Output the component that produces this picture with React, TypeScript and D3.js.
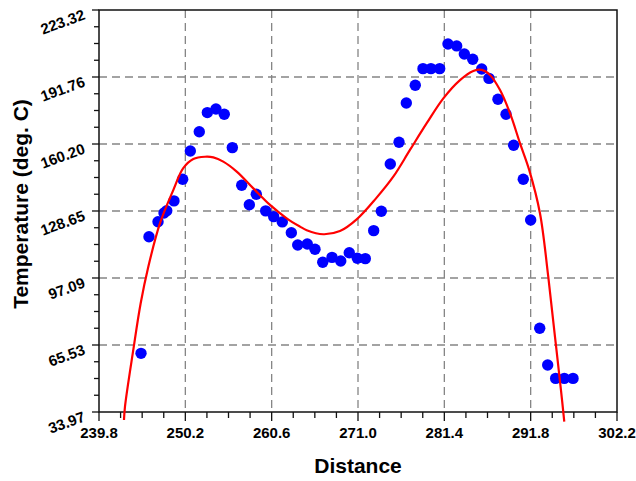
import React, { useRef, useEffect } from "react";
import { select, scaleLinear, line, curveCatmullRom } from "d3";

// measured points (distance, temperature)
const distance = [
  244.86, 245.82, 246.91, 247.63, 247.96, 248.83, 249.88, 250.8, 251.88, 252.85,
  253.89, 254.89, 255.86, 256.99, 257.91, 258.75, 259.88, 260.84, 261.88, 262.97,
  263.74, 264.89, 265.82, 266.75, 267.87, 268.92, 269.95, 270.92, 271.88, 272.89,
  273.81, 274.89, 275.94, 276.82, 277.9, 278.83, 279.79, 280.84, 281.84, 282.89,
  283.81, 284.82, 285.9, 286.78, 287.86, 288.83, 289.75, 290.91, 291.8, 292.89,
  293.85, 294.81, 295.85, 296.9,
];
const temperature = [
  61.6, 116.5, 123.6, 127.7, 128.8, 133.4, 143.6, 156.9, 166.0, 175.0,
  176.7, 174.2, 158.5, 140.8, 131.6, 136.5, 128.7, 126.0, 123.5, 118.4,
  112.6, 113.1, 110.6, 104.5, 106.8, 105.1, 109.0, 106.4, 106.2, 119.4,
  128.5, 150.8, 161.0, 179.5, 187.9, 195.7, 195.7, 195.7, 207.3, 206.4,
  202.6, 200.1, 195.5, 191.1, 181.3, 174.2, 159.6, 143.6, 124.4, 73.4,
  56.1, 49.8, 49.8, 49.8,
];

// fitted curve
const fitDistance = [
  242.81, 242.93, 243.93, 244.82, 245.74, 247.15, 248.75, 249.95, 251.16, 252.57,
  253.57, 254.77, 256.39, 258.39, 260.4, 262.41, 264.01, 264.82, 266.82, 268.83,
  270.84, 273.17, 275.25, 277.26, 279.28, 281.28, 283.29, 284.89, 285.9, 286.9,
  288.11, 289.31, 290.52, 291.63, 292.92, 293.92, 294.73, 295.45, 295.85,
];
const fitTemperature = [
  30.2, 36.5, 63.2, 85.2, 102.4, 122.9, 138.5, 148.8, 153.1, 154.2,
  153.9, 151.9, 147.2, 139.3, 131.5, 125.2, 121.3, 119.6, 117.7, 119.2,
  124.7, 134.6, 144.8, 157.4, 170.0, 181.7, 190.3, 194.6, 195.1, 192.7,
  185.6, 174.7, 160.5, 147.9, 127.6, 97.7, 69.4, 44.3, 29.4,
];

const xTickLabels = ["239.8", "250.2", "260.6", "271.0", "281.4", "291.8", "302.2"];
const yTickLabels = ["33.97", "65.53", "97.09", "128.65", "160.20", "191.76", "223.32"];

const width = 636;
const height = 481;
const margin = { top: 10, right: 19, bottom: 69, left: 99 };
const font = "'Liberation Sans', Arial, sans-serif";

function App() {
  const svgRef = useRef<SVGSVGElement>(null);

  useEffect(() => {
    const svg = select(svgRef.current);
    svg.selectAll("*").remove();

    const xTicks = xTickLabels.map(Number);
    const yTicks = yTickLabels.map(Number);

    const xScale = scaleLinear()
      .domain([xTicks[0], xTicks[xTicks.length - 1]])
      .range([margin.left, width - margin.right]);
    const yScale = scaleLinear()
      .domain([yTicks[0], yTicks[yTicks.length - 1]])
      .range([height - margin.bottom, margin.top]);

    const [x0, x1] = xScale.range();
    const [y0, y1] = yScale.range();

    // minor ticks: 4 subdivisions per major step
    const minor = (ticks: number[]) => {
      const out: number[] = [];
      for (let i = 0; i < ticks.length - 1; i++) {
        const step = (ticks[i + 1] - ticks[i]) / 4;
        for (let k = 1; k < 4; k++) out.push(ticks[i] + k * step);
      }
      return out;
    };

    // grid
    const grid = svg.append("g").attr("stroke", "#858585").attr("stroke-width", 1.3).attr("stroke-dasharray", "8,5");
    grid
      .selectAll(".vgrid")
      .data(xTicks.slice(1, -1))
      .join("line")
      .attr("x1", (d) => xScale(d))
      .attr("x2", (d) => xScale(d))
      .attr("y1", y1)
      .attr("y2", y0);
    grid
      .selectAll(".hgrid")
      .data(yTicks.slice(1, -1))
      .join("line")
      .attr("x1", x0)
      .attr("x2", x1)
      .attr("y1", (d) => yScale(d))
      .attr("y2", (d) => yScale(d));

    // frame
    svg
      .append("rect")
      .attr("x", x0)
      .attr("y", y1)
      .attr("width", x1 - x0)
      .attr("height", y0 - y1)
      .attr("fill", "none")
      .attr("stroke", "#111")
      .attr("stroke-width", 1.5);

    // ticks
    const ax = svg.append("g").attr("stroke", "#111").attr("stroke-width", 1.3);
    ax.selectAll(".xmaj")
      .data(xTicks)
      .join("line")
      .attr("x1", (d) => xScale(d))
      .attr("x2", (d) => xScale(d))
      .attr("y1", y0)
      .attr("y2", y0 + 9);
    ax.selectAll(".xmin")
      .data(minor(xTicks))
      .join("line")
      .attr("x1", (d) => xScale(d))
      .attr("x2", (d) => xScale(d))
      .attr("y1", y0)
      .attr("y2", y0 + 6);
    ax.selectAll(".ymaj")
      .data(yTicks)
      .join("line")
      .attr("x1", x0 - 7)
      .attr("x2", x0)
      .attr("y1", (d) => yScale(d))
      .attr("y2", (d) => yScale(d));
    ax.selectAll(".ymin")
      .data(minor(yTicks))
      .join("line")
      .attr("x1", x0 - 5)
      .attr("x2", x0)
      .attr("y1", (d) => yScale(d))
      .attr("y2", (d) => yScale(d));

    // tick labels
    svg
      .append("g")
      .selectAll("text")
      .data(xTickLabels)
      .join("text")
      .attr("x", (d) => xScale(+d))
      .attr("y", y0 + 26)
      .attr("text-anchor", "middle")
      .attr("font-family", font)
      .attr("font-weight", "bold")
      .attr("font-size", 15)
      .text((d) => d);

    svg
      .append("g")
      .selectAll("text")
      .data(yTickLabels)
      .join("text")
      .attr("transform", (d) => `translate(${x0 - 13},${yScale(+d) + 9}) rotate(-20)`)
      .attr("text-anchor", "end")
      .attr("font-family", font)
      .attr("font-weight", "bold")
      .attr("font-size", 15)
      .text((d) => d);

    // dots
    svg
      .append("g")
      .selectAll("circle")
      .data(distance.map((d, i) => [d, temperature[i]]))
      .join("circle")
      .attr("cx", (d) => xScale(d[0]))
      .attr("cy", (d) => yScale(d[1]))
      .attr("r", 5.7)
      .attr("fill", "#0000ff");

    // fitted curve
    const fitLine = line<[number, number]>()
      .x((d) => xScale(d[0]))
      .y((d) => yScale(d[1]))
      .curve(curveCatmullRom);
    svg
      .append("path")
      .attr("d", fitLine(fitDistance.map((d, i) => [d, fitTemperature[i]] as [number, number])))
      .attr("fill", "none")
      .attr("stroke", "#ff0000")
      .attr("stroke-width", 2.2);

    // axis titles
    svg
      .append("text")
      .attr("x", (x0 + x1) / 2)
      .attr("y", 473)
      .attr("text-anchor", "middle")
      .attr("font-family", font)
      .attr("font-weight", "bold")
      .attr("font-size", 21)
      .text("Distance");
    svg
      .append("text")
      .attr("transform", `translate(28,204) rotate(-90)`)
      .attr("text-anchor", "middle")
      .attr("font-family", font)
      .attr("font-weight", "bold")
      .attr("font-size", 21)
      .text("Temperature (deg. C)");
  }, []);

  return (
    <svg
      ref={svgRef}
      width={width}
      height={height}
      style={{ position: "absolute", left: 0, top: 0, background: "#fff" }}
    />
  );
}

export default App;
